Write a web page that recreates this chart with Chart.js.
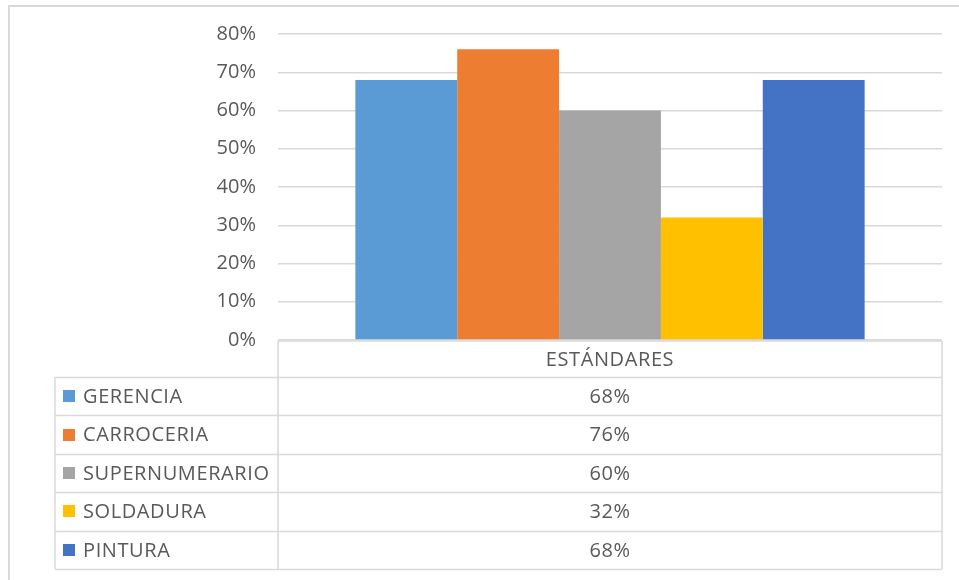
<!DOCTYPE html>
<html>
<head>
<meta charset="utf-8">
<script src="https://cdn.jsdelivr.net/npm/chart.js@4"></script>
<style>
  html, body { margin: 0; background: #fff; }
  canvas { display: block; }
</style>
</head>
<body>
<canvas id="chart" width="959" height="580"></canvas>
<script>
// data
const categoryLabel = 'ESTÁNDARES';
const seriesNames  = ['GERENCIA', 'CARROCERIA', 'SUPERNUMERARIO', 'SOLDADURA', 'PINTURA'];
const seriesValues = [68, 76, 60, 32, 68];
const seriesColors = ['#5B9BD5', '#ED7D31', '#A5A5A5', '#FFC000', '#4472C4'];
const yTickValues  = [0, 10, 20, 30, 40, 50, 60, 70, 80];

const TEXT = '#595959';
const LINE = '#d9d9d9';
const FONT = "'Open Sans', sans-serif";

// outer frame + data table under the plot (Excel style)
const dataTable = {
  id: 'dataTable',
  beforeDraw(chart) {
    const { ctx } = chart;
    ctx.save();
    ctx.strokeStyle = LINE;
    ctx.lineWidth = 2;
    ctx.strokeRect(9, 6, 1000, 700);
    ctx.restore();
  },
  afterDraw(chart) {
    const { ctx, chartArea: a } = chart;
    const labelLeft = 55;
    const headH = 36, rowH = 38.4;
    const top = a.bottom + 1;
    const bodyTop = top + headH;
    const bottom = bodyTop + rowH * seriesNames.length;
    const midX = (a.left + a.right) / 2;

    ctx.save();
    ctx.strokeStyle = LINE;
    ctx.lineWidth = 1.5;
    ctx.beginPath();
    // header cell
    ctx.moveTo(a.left, top); ctx.lineTo(a.right, top);
    ctx.moveTo(a.left, top); ctx.lineTo(a.left, bottom);
    ctx.moveTo(a.right, top); ctx.lineTo(a.right, bottom);
    // body rows
    ctx.moveTo(labelLeft, bodyTop); ctx.lineTo(labelLeft, bottom);
    for (let i = 0; i <= seriesNames.length; i++) {
      const y = Math.round(bodyTop + i * rowH) + 0.5;
      ctx.moveTo(labelLeft, y); ctx.lineTo(a.right, y);
    }
    ctx.stroke();

    ctx.font = '20px ' + FONT;
    ctx.letterSpacing = '0.6px';
    ctx.fillStyle = TEXT;
    ctx.textBaseline = 'middle';
    ctx.textAlign = 'center';
    ctx.fillText(categoryLabel, midX, top + headH / 2 + 1);

    seriesNames.forEach((name, i) => {
      const cy = bodyTop + rowH * i + rowH / 2 + 1;
      ctx.fillStyle = seriesColors[i];
      ctx.fillRect(63, Math.round(cy - 7), 12, 12);
      ctx.fillStyle = TEXT;
      ctx.textAlign = 'left';
      ctx.fillText(name, 83, cy);
      ctx.textAlign = 'center';
      ctx.fillText(seriesValues[i] + '%', midX, cy);
    });
    ctx.restore();
  }
};

new Chart(document.getElementById('chart'), {
  type: 'bar',
  data: {
    labels: [categoryLabel],
    datasets: seriesNames.map((name, i) => ({
      label: name,
      data: [seriesValues[i]],
      backgroundColor: seriesColors[i],
      borderWidth: 0,
      categoryPercentage: 0.767,
      barPercentage: 1
    }))
  },
  options: {
    responsive: false,
    animation: false,
    layout: { padding: { left: 0, right: 17, top: 34, bottom: 240 } },
    plugins: { legend: { display: false }, tooltip: { enabled: false } },
    scales: {
      x: { display: false },
      y: {
        min: 0, max: 80,
        afterFit(scale) { scale.width = 278; },
        afterBuildTicks(scale) { scale.ticks = yTickValues.map(v => ({ value: v })); },
        border: { display: false },
        grid: { color: LINE, lineWidth: 1.5, drawTicks: false },
        ticks: {
          padding: 22,
          color: TEXT,
          font: { family: FONT, size: 20 },
          callback: v => v + '%'
        }
      }
    }
  },
  plugins: [dataTable]
});
</script>
</body>
</html>
